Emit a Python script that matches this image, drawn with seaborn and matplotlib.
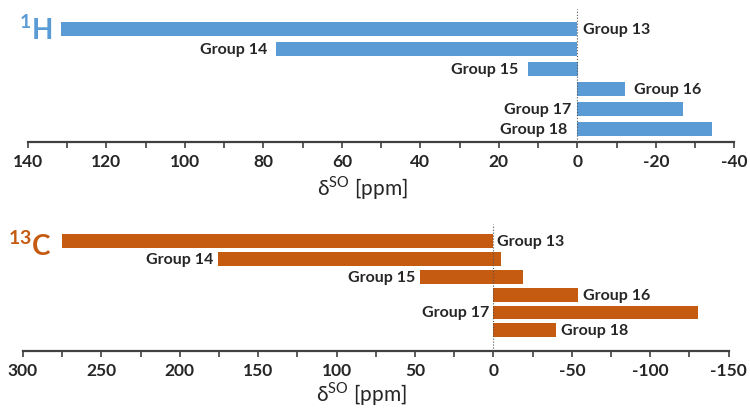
"""Spin-orbit shielding contributions, 1H and 13C, per periodic group."""

import matplotlib.pyplot as plt
import pandas as pd
import seaborn as sns
from matplotlib.ticker import MultipleLocator

groups = ["Group 13", "Group 14", "Group 15", "Group 16", "Group 17", "Group 18"]

# 1H panel: extent of each bar on both sides of zero (ppm)
h_upper = [131.5, 76.8, 12.7, -0.6, -0.7, 0.2]
h_lower = [0.8, 0.2, -0.2, -12.1, -26.8, -34.2]
h_label_side = ["right", "left", "left", "right", "left", "left"]

# 13C panel
c_upper = [275.2, 175.6, 46.6, -1.7, -0.2, -0.8]
c_lower = [0.8, -4.9, -18.7, -54.2, -130.3, -40.0]
c_label_side = ["right", "left", "left", "right", "left", "right"]

H_COLOR = "#5B9BD5"
C_COLOR = "#C55A11"
TEXT_COLOR = "#262626"
W, H = 750, 410

sns.set_style("white")
plt.rcParams["font.family"] = ["Lato", "DejaVu Sans"]
plt.rcParams["mathtext.fontset"] = "custom"
plt.rcParams["mathtext.rm"] = "Lato"
plt.rcParams["mathtext.bf"] = "Lato:bold"
plt.rcParams["axes.unicode_minus"] = False


def px_axes(fig, left, top, right, bottom):
    """Add an axes given pixel edges (origin top-left)."""
    return fig.add_axes([left / W, 1 - bottom / H, (right - left) / W, (bottom - top) / H])


def draw_panel(ax, df, color, xlim, major, minor, bar_width, ylim, xlabel_pos, pad):
    # every bar crosses zero, so draw each side as its own bar from 0
    for col in ["upper", "lower"]:
        sns.barplot(data=df, x=col, y="group", orient="h", color=color,
                    saturation=1, width=bar_width, linewidth=0, ax=ax)
    ax.axvline(0, color="#555555", lw=0.8, ls=":", zorder=5)

    for i, row in df.iterrows():
        if row["side"] == "right":
            x, dx, ha = min(row["upper"], row["lower"]), pad, "left"
        else:
            x, dx, ha = max(row["upper"], row["lower"]), -pad, "right"
        ax.annotate(row["group"], (x, i), xytext=(dx, 0), textcoords="offset pixels",
                    ha=ha, va="center", fontsize=11.5, fontweight="bold",
                    color=TEXT_COLOR)

    ax.set_xlim(*xlim)
    ax.set_ylim(*ylim)
    ax.xaxis.set_major_locator(MultipleLocator(major))
    ax.xaxis.set_minor_locator(MultipleLocator(minor))
    ax.tick_params(axis="x", which="both", bottom=True, direction="out",
                   length=4, width=1.2, color="#404040", pad=4,
                   labelsize=12.5, labelcolor=TEXT_COLOR)
    for lab in ax.get_xticklabels():
        lab.set_fontweight("bold")
    ax.set_yticks([])
    ax.set_ylabel("")
    sns.despine(ax=ax, left=True)
    ax.spines["bottom"].set_linewidth(1.6)
    ax.spines["bottom"].set_color("#404040")

    ax.set_xlabel("δ$^{\\mathrm{SO}}$ [ppm]", fontsize=15, color=TEXT_COLOR)
    ax.xaxis.label.set_va("baseline")
    ax.xaxis.set_label_coords(*xlabel_pos)


h_df = pd.DataFrame({"group": groups, "upper": h_upper, "lower": h_lower,
                     "side": h_label_side})
c_df = pd.DataFrame({"group": groups, "upper": c_upper, "lower": c_lower,
                     "side": c_label_side})

fig = plt.figure(figsize=(7.5, 4.1), dpi=100)

ax_h = px_axes(fig, 27.8, 10, 734.4, 143.3)
draw_panel(ax_h, h_df, H_COLOR, (140, -40), 20, 10, 0.72,
           (5.675, -0.985), (0.473, -0.388), 9)

ax_c = px_axes(fig, 23, 225, 728.7, 351.7)
draw_panel(ax_c, c_df, C_COLOR, (300, -150), 50, 25, 0.78,
           (6.146, -0.966), (0.480, -0.395), 5)

fig.text(19 / W, 1 - 40 / H, "$^{\\mathbf{1}}$H", fontsize=20, fontweight="bold",
         color=H_COLOR, ha="left", va="baseline")
fig.text(8 / W, 1 - 256 / H, "$^{\\mathbf{13}}$C", fontsize=20, fontweight="bold",
         color=C_COLOR, ha="left", va="baseline")

fig.savefig("out.png", dpi=100)
